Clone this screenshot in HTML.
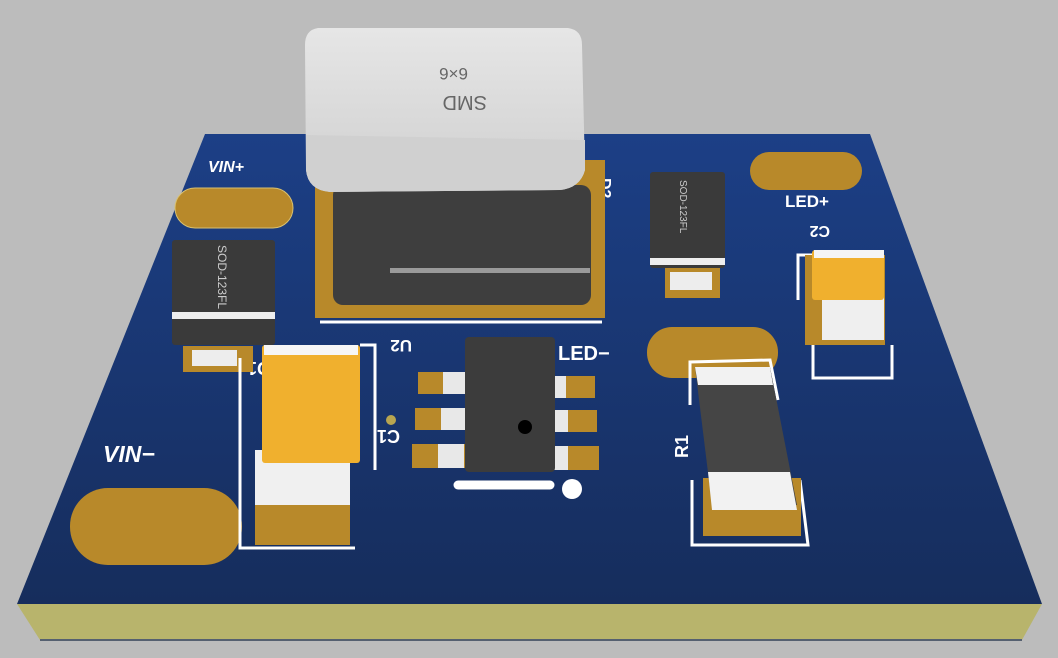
<!DOCTYPE html>
<html><head><meta charset="utf-8"><style>
html,body{margin:0;padding:0;background:#bcbcbc;}
svg{display:block}
text{font-family:"Liberation Sans",sans-serif;}
</style></head><body>
<svg width="1058" height="658" viewBox="0 0 1058 658" xmlns="http://www.w3.org/2000/svg">
<defs>
<linearGradient id="blue" x1="0" y1="0" x2="0" y2="1">
<stop offset="0" stop-color="#1c3f86"/><stop offset="1" stop-color="#162d5c"/></linearGradient>
<linearGradient id="cap" x1="0" y1="0" x2="0" y2="1">
<stop offset="0" stop-color="#e6e6e6"/><stop offset="1" stop-color="#cfcfcf"/></linearGradient>
</defs>
<rect width="1058" height="658" fill="#bcbcbc"/>
<!-- board side -->
<polygon points="17,604 1042,604 1022,640 40,640" fill="#b8b46c"/>
<line x1="40" y1="640" x2="1022" y2="640" stroke="#556070" stroke-width="2"/>
<!-- board top -->
<polygon points="205,134 870,134 1042,604 17,604" fill="url(#blue)"/>
<!-- pads -->
<rect x="175" y="188" width="118" height="40" rx="20" fill="#b8892a" stroke="#d8c070" stroke-width="1"/>
<rect x="750" y="152" width="112" height="38" rx="19" fill="#b8892a"/>
<rect x="70" y="488" width="172" height="77" rx="38" fill="#b8892a"/>
<rect x="647" y="327" width="131" height="51" rx="25" fill="#b8892a"/>
<!-- labels -->
<text x="208" y="172" fill="#fff" font-size="16" font-weight="bold" font-style="italic">VIN+</text>
<text x="785" y="207" fill="#fff" font-size="17" font-weight="bold">LED+</text>
<text x="103" y="462" fill="#fff" font-size="23" font-weight="bold" font-style="italic">VIN−</text>
<text x="558" y="360" fill="#fff" font-size="20" font-weight="bold">LED−</text>
<text transform="translate(600,178) rotate(90)" fill="#fff" font-size="16" font-weight="bold">D2</text>
<text transform="translate(830,226) rotate(180)" fill="#fff" font-size="16" font-weight="bold">C2</text>
<text transform="translate(400,430) rotate(180)" fill="#fff" font-size="18" font-weight="bold">C1</text>
<text transform="translate(270,362) rotate(180)" fill="#fff" font-size="18" font-weight="bold">D1</text>
<text transform="translate(412,340) rotate(180)" fill="#fff" font-size="17" font-weight="bold">U2</text>
<text transform="translate(688,458) rotate(-90)" fill="#fff" font-size="18" font-weight="bold">R1</text>
<circle cx="391" cy="420" r="5" fill="#b8a550"/>
<!-- inductor -->
<rect x="315" y="160" width="290" height="158" fill="#b8892a"/>
<rect x="333" y="185" width="258" height="120" rx="10" fill="#3e3e3e"/>
<rect x="390" y="268" width="200" height="5" fill="#9a9a9a"/>
<line x1="320" y1="322" x2="602" y2="322" stroke="#fff" stroke-width="3"/>
<path d="M318,28 L568,28 Q582,30 582,45 L585,170 Q580,188 560,190 L330,192 Q308,190 306,170 L305,45 Q305,30 318,28 Z" fill="url(#cap)"/>
<path d="M306,135 L585,140 L585,170 Q580,188 560,190 L330,192 Q308,190 306,170 Z" fill="#d0d0d0"/>
<text transform="translate(487,96) rotate(180)" fill="#666" font-size="20">SMD</text>
<text transform="translate(468,68) rotate(180)" fill="#666" font-size="17">6×6</text>
<!-- D2 -->
<rect x="665" y="268" width="55" height="30" fill="#b8892a"/>
<rect x="670" y="272" width="42" height="18" fill="#ededed"/>
<rect x="650" y="172" width="75" height="96" rx="3" fill="#3a3a3a"/>
<rect x="650" y="258" width="75" height="7" fill="#eee"/>
<text transform="translate(680,180) rotate(90)" fill="#ccc" font-size="10">SOD-123FL</text>
<!-- D1 -->
<rect x="183" y="346" width="70" height="26" fill="#b8892a"/>
<rect x="192" y="350" width="45" height="16" fill="#ededed"/>
<rect x="172" y="240" width="103" height="105" rx="3" fill="#3a3a3a"/>
<rect x="172" y="312" width="103" height="7" fill="#eee"/>
<text transform="translate(218,245) rotate(90)" fill="#ccc" font-size="12">SOD-123FL</text>
<!-- C1 big cap -->
<path d="M240,358 L240,548 L355,548 M360,345 L375,345 L375,470" stroke="#fff" stroke-width="3" fill="none"/>
<rect x="255" y="500" width="95" height="45" fill="#b8892a"/>
<rect x="255" y="450" width="95" height="55" fill="#f0f0f0"/>
<rect x="262" y="345" width="98" height="118" rx="3" fill="#f0b02e"/>
<rect x="264" y="345" width="94" height="10" fill="#f6f6f6"/>
<!-- U2 -->
<g fill="#b8892a">
<rect x="418" y="372" width="48" height="22"/><rect x="415" y="408" width="51" height="22"/><rect x="412" y="444" width="54" height="24"/>
<rect x="545" y="376" width="50" height="22"/><rect x="545" y="410" width="52" height="22"/><rect x="545" y="446" width="54" height="24"/>
</g>
<g fill="#e8e8e8">
<rect x="443" y="372" width="22" height="22"/><rect x="441" y="408" width="24" height="22"/><rect x="438" y="444" width="26" height="24"/>
<rect x="546" y="376" width="20" height="22"/><rect x="546" y="410" width="22" height="22"/><rect x="546" y="446" width="22" height="24"/>
</g>
<rect x="465" y="337" width="90" height="135" rx="4" fill="#3c3c3c"/>
<circle cx="525" cy="427" r="7" fill="#000"/>
<line x1="458" y1="485" x2="550" y2="485" stroke="#fff" stroke-width="9" stroke-linecap="round"/>
<circle cx="572" cy="489" r="10" fill="#fff"/>
<!-- R1 -->
<path d="M690,405 L690,362 L770,360 L778,400 M692,480 L692,545 L808,545 L800,480" stroke="#fff" stroke-width="3" fill="none"/>
<rect x="703" y="478" width="98" height="58" fill="#b8892a"/>
<polygon points="695,367 770,367 797,505 712,505" fill="#454545"/>
<polygon points="695,367 770,367 773,385 698,385" fill="#f2f2f2"/>
<polygon points="708,472 790,472 797,510 712,510" fill="#f2f2f2"/>
<!-- C2 -->
<path d="M798,300 L798,255 L812,255 M813,320 L813,378 L892,378 L892,345" stroke="#fff" stroke-width="3" fill="none"/>
<rect x="805" y="255" width="80" height="90" fill="#b8892a"/>
<rect x="822" y="290" width="62" height="50" fill="#efefef"/>
<rect x="812" y="250" width="72" height="50" rx="3" fill="#f0b02e"/>
<rect x="814" y="250" width="70" height="8" fill="#f5f5f5"/>
</svg>
</body></html>
